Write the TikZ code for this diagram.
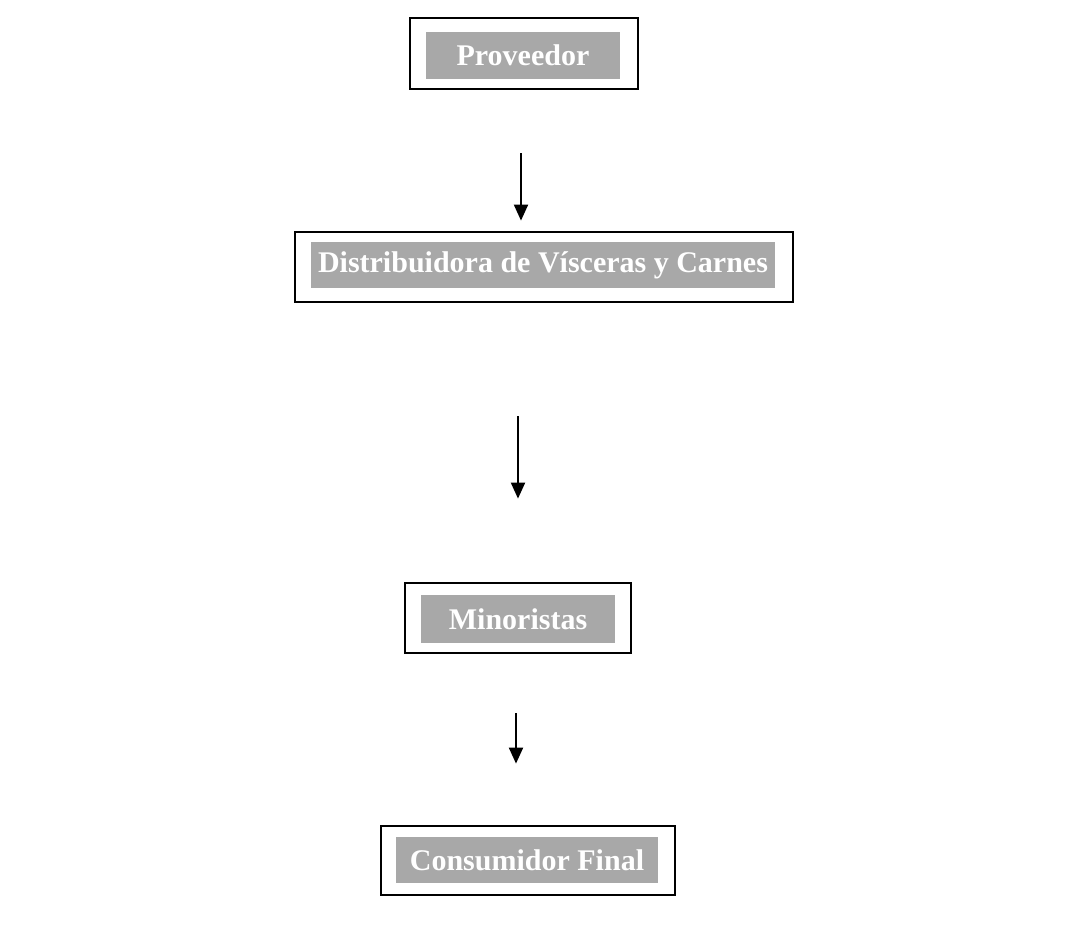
\documentclass[tikz,border=0pt]{standalone}
\usepackage{fontspec}
\setmainfont{Liberation Serif}
\usetikzlibrary{arrows.meta}
\definecolor{gris}{RGB}{168,168,168}
\tikzset{
  marco/.style={draw,line width=2.8pt,inner sep=0pt},
  relleno/.style={fill=gris,text=white,inner sep=0pt,font=\fontsize{30}{31}\selectfont\bfseries},
  flecha/.style={line width=2pt,-{Triangle[width=14pt,length=16pt]}}
}
\begin{document}
\begin{tikzpicture}[x=1pt,y=-1pt]
	\useasboundingbox (0,0) rectangle (1077,929);
	% cajas (marco exterior y rotulo gris)
	\node[marco,minimum width=228,minimum height=71] (prov) at (524,53.5) {};
	\node[relleno,minimum width=194,minimum height=47] (provT) at (523,55.5) {Proveedor};
	\node[marco,minimum width=498,minimum height=70] (dist) at (544,267) {};
	\node[relleno,minimum width=464,minimum height=46] (distT) at (543,265) {Distribuidora de Vísceras y Carnes};
	\node[marco,minimum width=226,minimum height=70] (mino) at (518,618) {};
	\node[relleno,minimum width=194,minimum height=48] (minoT) at (518,619) {Minoristas};
	\node[marco,minimum width=294,minimum height=69] (cons) at (528,860.5) {};
	\node[relleno,minimum width=262,minimum height=46] (consT) at (527,860) {Consumidor Final};
	% flechas
	\draw[flecha,shorten <=63pt,shorten >=10pt] (prov.south -| 521,0) -- (dist.north -| 521,0);
	\draw[flecha,shorten <=113pt,shorten >=83pt] (dist.south -| mino) -- (mino.north);
	\draw[flecha,shorten <=59pt,shorten >=61pt] (mino.south -| 516,0) -- (cons.north -| 516,0);
\end{tikzpicture}
\end{document}
